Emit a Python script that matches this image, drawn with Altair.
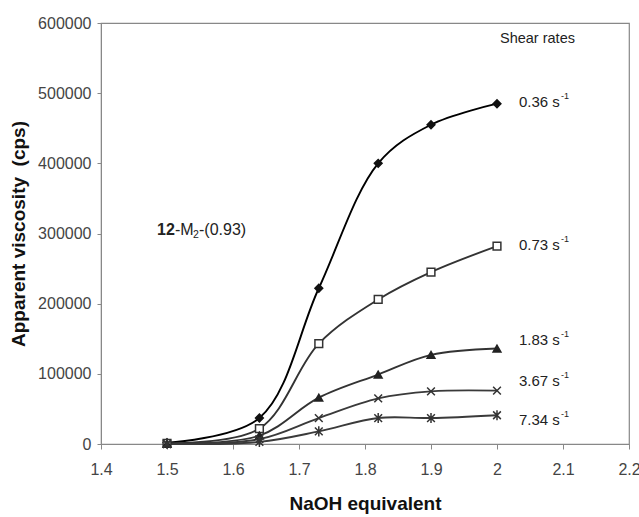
import altair as alt
import pandas as pd

naoh = [1.5, 1.64, 1.73, 1.82, 1.9, 2.0]
series = ["0.36", "0.73", "1.83", "3.67", "7.34"]
v036 = [2000, 37000, 222000, 400000, 455000, 485000]
v073 = [1000, 22000, 143000, 206000, 245000, 282000]
v183 = [500, 12000, 66000, 99000, 127000, 136000]
v367 = [0, 7000, 37000, 65000, 75000, 76000]
v734 = [0, 3000, 18000, 37000, 37000, 41000]
values = [v036, v073, v183, v367, v734]

rows = []
for s, vals in zip(series, values):
    for x, v in zip(naoh, vals):
        rows.append({"series": s, "naoh": x, "visc": v})
df = pd.DataFrame(rows)

lab = pd.DataFrame({"series": series, "naoh": [naoh[-1]] * 5,
                    "visc": [v[-1] for v in values],
                    "label": [s + " s" for s in series]})
label_dy = [-2, -1, -9, -10, 5]

FONT = "Liberation Sans"
x_path = "M-1,-1L1,1M-1,1L1,-1"
ast_path = "M-1,-1L1,1M-1,1L1,-1M0,-1.3L0,1.3"

xs = alt.Scale(domain=[1.4, 2.2], nice=False)
ys = alt.Scale(domain=[0, 600000], nice=False)

xenc = alt.X("naoh:Q", scale=xs, title="NaOH equivalent",
             axis=alt.Axis(values=[1.4, 1.5, 1.6, 1.7, 1.8, 1.9, 2.0, 2.1, 2.2],
                           format=".1~f", grid=False, tickSize=5, labelPadding=12,
                           labelFontSize=16, titleFontSize=19, titleFontWeight="bold",
                           titlePadding=17, labelColor="#444", titleColor="#111",
                           domainColor="#888", tickColor="#888", labelFont=FONT,
                           titleFont=FONT, labelFlush=False))
yenc = alt.Y("visc:Q", scale=ys, title="Apparent viscosity\u00a0\u00a0(cps)",
             axis=alt.Axis(values=[0, 100000, 200000, 300000, 400000, 500000, 600000],
                           format="d", grid=False, tickSize=4, labelPadding=6,
                           labelFontSize=16, titleFontSize=19, titleFontWeight="bold",
                           titlePadding=9, labelColor="#444", titleColor="#111",
                           domainColor="#888", tickColor="#888", labelFont=FONT,
                           titleFont=FONT))

col = alt.Scale(domain=series, range=["#000000", "#333333", "#333333", "#3a3a3a", "#3a3a3a"])

lines = alt.Chart(df).mark_line(interpolate="catmull-rom", strokeWidth=1.9).encode(
    x=xenc, y=yenc, detail="series:N",
    color=alt.Color("series:N", scale=col, legend=None))

pts = alt.Chart(df).mark_point(filled=False, size=60, strokeWidth=1.5, opacity=1).encode(
    x="naoh:Q", y="visc:Q",
    shape=alt.Shape("series:N", legend=None,
                    scale=alt.Scale(domain=series,
                                    range=["diamond", "square", "triangle-up", x_path, ast_path])),
    fill=alt.Fill("series:N", legend=None,
                  scale=alt.Scale(domain=series,
                                  range=["#111111", "#ffffff", "#222222", "#333333", "#333333"])),
    stroke=alt.Stroke("series:N", legend=None,
                      scale=alt.Scale(domain=series,
                                      range=["#111111", "#333333", "#222222", "#333333", "#333333"])),
)

texts = []
for i, s in enumerate(series):
    sub = lab[lab.series == s]
    t1 = alt.Chart(sub).mark_text(align="left", baseline="middle", dx=22, dy=label_dy[i],
                                  fontSize=15, font=FONT, color="#222").encode(
        x="naoh:Q", y="visc:Q", text="label:N")
    t2 = alt.Chart(sub).mark_text(align="left", baseline="middle", dx=64, dy=label_dy[i] - 6,
                                  fontSize=9, font=FONT, color="#222").encode(
        x="naoh:Q", y="visc:Q", text=alt.value("-1"))
    texts += [t1, t2]

shear = alt.Chart(pd.DataFrame({"t": ["Shear rates"]})).mark_text(
    align="left", baseline="middle", fontSize=14.5, font=FONT, color="#222").encode(
    x=alt.value(399), y=alt.value(16), text="t:N")

ann_parts = [("12", 56, 0, 16, "bold"), ("-M", 74, 0, 16, "normal"),
             ("2", 92, 5, 10.5, "normal"), ("-(0.93)", 98, 0, 16, "normal")]
ann = []
for txt, xp, yo, fs, fw in ann_parts:
    ann.append(alt.Chart(pd.DataFrame({"t": [txt]})).mark_text(
        align="left", baseline="middle", fontSize=fs, fontWeight=fw, font=FONT,
        color="#222").encode(x=alt.value(xp), y=alt.value(207 + yo), text="t:N"))

chart = alt.layer(lines, pts, *texts, shear, *ann).properties(
    width=528, height=421,
    padding={"left": 101, "top": 23, "right": 10, "bottom": 73},
    autosize=alt.AutoSizeParams(type="none"),
    background="white",
).configure_view(stroke="#888", strokeWidth=1.2)

chart.save("out.html", embed_options={"renderer": "svg", "actions": False})
